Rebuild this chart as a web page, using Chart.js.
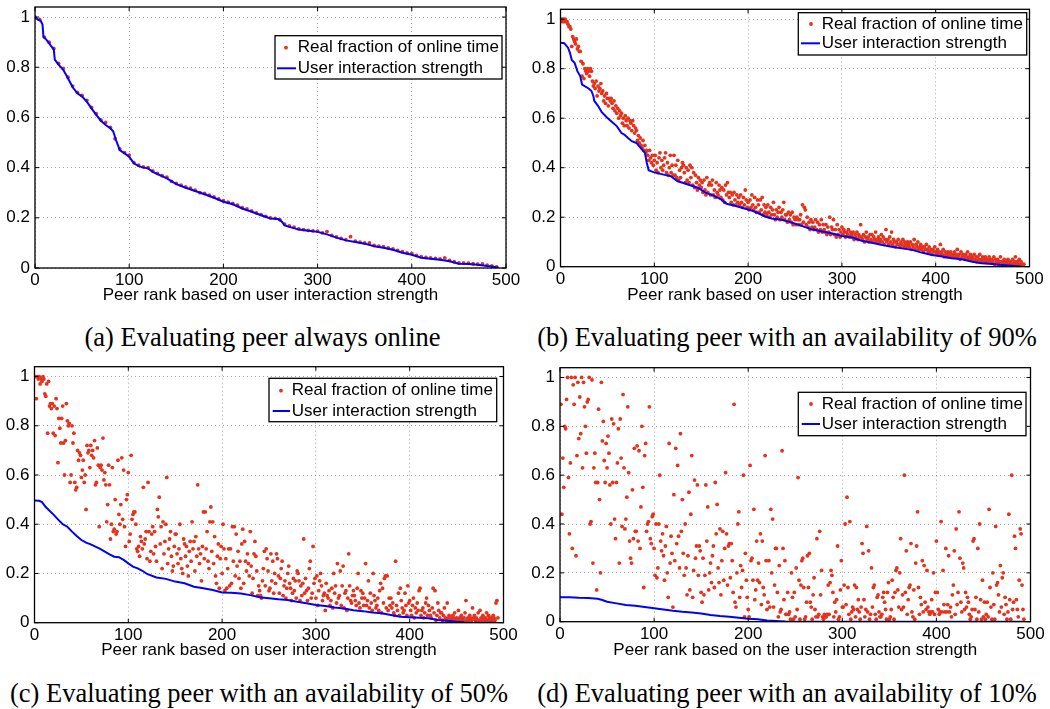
<!DOCTYPE html>
<html>
<head>
<meta charset="utf-8">
<title>Peer availability vs. user interaction strength</title>
<script src="https://cdn.jsdelivr.net/npm/chart.js@4.4.0/dist/chart.umd.min.js"></script>
<style>
  html, body { margin: 0; padding: 0; background: #fff; }
  #page { position: relative; width: 1050px; height: 709px; overflow: hidden; }
  .panel { position: absolute; width: 525px; height: 310px; }
  .caption { position: absolute; width: 600px; height: 30px; line-height: 30px; text-align: center;
             font-family: "Liberation Serif", "Times New Roman", serif; font-size: 26.5px; color: #000; white-space: nowrap; }
</style>
</head>
<body>
<div id="page">
  <div class="panel" style="left:0;top:0"><canvas id="chartA"></canvas></div>
  <div class="panel" style="left:525px;top:0"><canvas id="chartB"></canvas></div>
  <div class="panel" style="left:0;top:355px"><canvas id="chartC"></canvas></div>
  <div class="panel" style="left:525px;top:355px"><canvas id="chartD"></canvas></div>
  <div class="caption" id="capA" style="left:-37.5px;top:322px"></div>
  <div class="caption" id="capB" style="left:487px;top:322px"></div>
  <div class="caption" id="capC" style="left:-41px;top:678px"></div>
  <div class="caption" id="capD" style="left:487px;top:678px"></div>
</div>
<script>
const xTicks = [0, 100, 200, 300, 400, 500];
const xTickLabels = ["0", "100", "200", "300", "400", "500"];
const yTicks = [0, 0.2, 0.4, 0.6, 0.8, 1];
const yTickLabels = ["0", "0.2", "0.4", "0.6", "0.8", "1"];
const seriesNames = ["Real fraction of online time", "User interaction strength"];
const xTitles = [
  "Peer rank based on user interaction strength",
  "Peer rank based on user interaction strength",
  "Peer rank based on user interaction strength",
  "Peer rank based on the user interaction strength"
];
const captions = [
  "(a)  Evaluating peer always online",
  "(b)  Evaluating peer with an availability of 90%",
  "(c)  Evaluating peer with an availability of 50%",
  "(d)  Evaluating peer with an availability of 10%"
];

// (a) peer always online
const aDotRank = [
  0, 5, 10, 15, 20, 25, 30, 35, 40, 45, 50, 55, 60, 65, 70, 75, 80, 85, 90, 95,
  100, 105, 110, 115, 120, 125, 130, 135, 140, 145, 150, 155, 160, 165, 170, 175, 180, 185, 190, 195,
  200, 205, 210, 215, 220, 225, 230, 235, 240, 245, 250, 255, 260, 265, 270, 275, 280, 285, 290, 295,
  300, 305, 310, 315, 320, 325, 330, 335, 340, 345, 350, 355, 360, 365, 370, 375, 380, 385, 390, 395,
  400, 405, 410, 415, 420, 425, 430, 435, 440, 445, 450, 455, 460, 465, 470, 475, 480, 485, 490
];
const aDotValue = [
  1.00, 0.99, 0.92, 0.90, 0.875, 0.815, 0.795, 0.76, 0.725, 0.70,
  0.688, 0.668, 0.64, 0.615, 0.59, 0.58, 0.56, 0.515, 0.475, 0.46,
  0.45, 0.42, 0.41, 0.403, 0.40, 0.387, 0.377, 0.368, 0.362, 0.345,
  0.337, 0.33, 0.323, 0.318, 0.31, 0.30, 0.297, 0.29, 0.283, 0.275,
  0.268, 0.262, 0.257, 0.25, 0.24, 0.235, 0.228, 0.22, 0.213, 0.206,
  0.20, 0.198, 0.193, 0.175, 0.168, 0.163, 0.156, 0.153, 0.15, 0.148,
  0.147, 0.14, 0.145, 0.13, 0.124, 0.118, 0.113, 0.125, 0.107, 0.103,
  0.10, 0.10, 0.09, 0.087, 0.085, 0.08, 0.076, 0.07, 0.065, 0.06,
  0.058, 0.05, 0.045, 0.042, 0.04, 0.038, 0.036, 0.04, 0.03, 0.025,
  0.02, 0.02, 0.019, 0.017, 0.015, 0.016, 0.011, 0.008, 0.004
];
const aLineRank = [0, 3, 6, 8, 9, 12, 15, 18, 20, 21, 25, 30, 35, 40, 45, 50, 55, 60, 65, 70,
  75, 80, 83, 86, 90, 95, 100, 105, 110, 115, 120, 125, 130, 140, 150, 160, 170, 180, 190, 200,
  210, 220, 230, 240, 250, 258, 262, 265, 270, 280, 290, 300, 310, 320, 330, 340, 350, 360, 370, 380,
  390, 400, 410, 420, 430, 440, 450, 460, 470, 480, 485, 492];
const aLineValue = [1.0, 0.99, 0.985, 0.97, 0.92, 0.91, 0.895, 0.88, 0.87, 0.83, 0.81, 0.79, 0.756, 0.72, 0.696, 0.683, 0.663, 0.636, 0.61, 0.587,
  0.57, 0.557, 0.545, 0.51, 0.47, 0.457, 0.443, 0.417, 0.406, 0.40, 0.397, 0.383, 0.374, 0.357, 0.334, 0.32, 0.307, 0.294, 0.28, 0.264,
  0.254, 0.237, 0.224, 0.21, 0.197, 0.195, 0.185, 0.17, 0.164, 0.153, 0.148, 0.144, 0.134, 0.121, 0.11, 0.104, 0.097, 0.087, 0.081, 0.073,
  0.061, 0.053, 0.041, 0.037, 0.033, 0.027, 0.017, 0.016, 0.013, 0.008, 0.006, 0.001];

// (b) availability 90%  (dot i sits at peer rank i + 1)
const bDotValue = [
  1.00,0.99,1.00,0.99,1.00,0.99,0.99,0.98,0.97,0.97,
  0.96,0.89,0.93,0.92,0.91,0.90,0.92,0.88,0.89,0.87,
  0.87,0.83,0.77,0.82,0.76,0.80,0.79,0.78,0.80,0.79,
  0.77,0.80,0.79,0.75,0.73,0.74,0.72,0.75,0.69,0.73,
  0.71,0.72,0.74,0.70,0.71,0.67,0.69,0.66,0.70,0.68,
  0.65,0.68,0.67,0.68,0.66,0.64,0.67,0.63,0.65,0.62,
  0.64,0.60,0.63,0.61,0.62,0.58,0.60,0.57,0.61,0.59,
  0.57,0.60,0.56,0.59,0.58,0.55,0.59,0.57,0.54,0.56,
  0.55,0.51,0.53,0.50,0.52,0.49,0.48,0.51,0.47,0.49,
  0.46,0.47,0.45,0.43,0.47,0.44,0.42,0.45,0.41,0.43,
  0.45,0.39,0.42,0.38,0.44,0.46,0.40,0.43,0.39,0.41,
  0.44,0.46,0.38,0.42,0.37,0.40,0.45,0.38,0.41,0.37,
  0.45,0.37,0.41,0.36,0.43,0.35,0.39,0.36,0.40,0.42,
  0.41,0.38,0.34,0.40,0.35,0.39,0.34,0.41,0.36,0.40,
  0.33,0.38,0.32,0.37,0.34,0.31,0.36,0.33,0.35,0.32,
  0.34,0.30,0.35,0.31,0.29,0.36,0.30,0.33,0.34,0.29,
  0.33,0.35,0.29,0.31,0.28,0.34,0.30,0.29,0.33,0.31,
  0.28,0.32,0.27,0.31,0.26,0.33,0.29,0.34,0.30,0.28,
  0.30,0.26,0.29,0.25,0.30,0.27,0.25,0.29,0.26,0.28,
  0.25,0.29,0.26,0.24,0.28,0.25,0.31,0.27,0.24,0.26,
  0.23,0.27,0.24,0.29,0.25,0.23,0.28,0.24,0.22,0.27,
  0.25,0.22,0.27,0.23,0.28,0.21,0.25,0.22,0.24,0.21,
  0.25,0.22,0.20,0.24,0.21,0.23,0.26,0.21,0.19,0.23,
  0.20,0.22,0.24,0.19,0.22,0.20,0.23,0.26,0.19,0.21,
  0.21,0.18,0.22,0.19,0.21,0.18,0.22,0.17,0.20,0.19,
  0.17,0.20,0.19,0.17,0.19,0.21,0.17,0.25,0.18,0.24,
  0.23,0.17,0.20,0.16,0.18,0.15,0.19,0.16,0.18,0.15,
  0.16,0.19,0.15,0.18,0.14,0.17,0.15,0.19,0.14,0.17,
  0.15,0.14,0.17,0.13,0.16,0.14,0.20,0.13,0.16,0.15,
  0.19,0.13,0.15,0.12,0.17,0.13,0.15,0.12,0.14,0.16,
  0.13,0.15,0.14,0.12,0.14,0.13,0.15,0.12,0.14,0.13,
  0.12,0.14,0.11,0.13,0.12,0.14,0.11,0.13,0.12,0.17,
  0.12,0.11,0.13,0.10,0.12,0.14,0.11,0.12,0.10,0.13,
  0.11,0.13,0.10,0.12,0.11,0.14,0.10,0.11,0.12,0.10,
  0.11,0.13,0.10,0.12,0.09,0.11,0.15,0.10,0.11,0.09,
  0.12,0.10,0.14,0.09,0.11,0.10,0.08,0.10,0.09,0.11,
  0.09,0.08,0.10,0.09,0.11,0.08,0.10,0.09,0.08,0.10,
  0.09,0.08,0.10,0.07,0.09,0.08,0.11,0.07,0.09,0.08,
  0.10,0.07,0.08,0.09,0.07,0.08,0.06,0.08,0.07,0.09,
  0.07,0.06,0.08,0.06,0.07,0.05,0.07,0.06,0.08,0.06,
  0.05,0.07,0.06,0.05,0.09,0.06,0.05,0.07,0.04,0.06,
  0.05,0.04,0.06,0.05,0.04,0.06,0.05,0.04,0.05,0.06,
  0.04,0.05,0.07,0.04,0.05,0.03,0.06,0.04,0.05,0.04,
  0.03,0.05,0.04,0.06,0.03,0.04,0.05,0.03,0.04,0.03,
  0.05,0.03,0.04,0.02,0.04,0.03,0.05,0.02,0.03,0.04,
  0.02,0.03,0.04,0.02,0.03,0.02,0.04,0.03,0.02,0.03,
  0.02,0.04,0.01,0.03,0.02,0.03,0.01,0.02,0.04,0.02,
  0.01,0.02,0.03,0.01,0.02,0.01,0.03,0.02,0.01,0.02,
  0.01,0.03,0.01,0.02,0.04,0.01,0.02,0.01,0.03,0.01,
  0.02,0.01,0.00,0.01
];
const bLineRank = [0, 4, 8, 10, 12, 15, 18, 21, 23, 30, 33, 35, 36, 40, 44, 49, 54, 60, 65, 68,
  72, 76, 81, 84, 87, 90, 91, 92, 94, 97, 100, 110, 118, 125, 131, 140, 147, 154, 165, 172,
  177, 186, 197, 204, 211, 218, 225, 236, 247, 257, 268, 279, 289, 300, 311, 321, 332, 343, 353, 364,
  375, 385, 396, 407, 417, 428, 439, 449, 460, 471, 481, 492];
const bLineValue = [0.905, 0.903, 0.885, 0.865, 0.835, 0.824, 0.79, 0.77, 0.736, 0.72, 0.71, 0.69, 0.67, 0.65, 0.624, 0.605, 0.588, 0.568, 0.54, 0.534,
  0.52, 0.507, 0.5, 0.486, 0.473, 0.46, 0.44, 0.42, 0.39, 0.385, 0.381, 0.372, 0.365, 0.345, 0.338, 0.327, 0.318, 0.3, 0.284, 0.27,
  0.254, 0.246, 0.234, 0.227, 0.216, 0.203, 0.195, 0.19, 0.178, 0.165, 0.151, 0.142, 0.135, 0.124, 0.118, 0.105, 0.097, 0.088, 0.081, 0.074,
  0.068, 0.057, 0.047, 0.041, 0.034, 0.03, 0.02, 0.014, 0.011, 0.007, 0.004, 0.0];

// (c) availability 50%  (dot i sits at peer rank i + 1)
const cDotValue = [
  1.00,0.91,1.00,0.99,1.00,0.97,0.99,0.98,1.00,0.99,
  0.93,0.92,0.97,0.77,0.98,0.88,0.89,0.87,0.89,0.77,
  0.88,0.76,0.91,0.87,0.65,0.83,0.79,0.73,0.83,0.88,
  0.73,0.60,0.74,0.89,0.82,0.80,0.81,0.57,0.60,0.80,
  0.73,0.77,0.57,0.54,0.55,0.70,0.66,0.69,0.68,0.59,
  0.62,0.66,0.57,0.60,0.46,0.72,0.69,0.70,0.63,0.72,
  0.68,0.70,0.67,0.74,0.56,0.57,0.71,0.64,0.39,0.63,
  0.64,0.62,0.75,0.58,0.61,0.56,0.41,0.48,0.64,0.56,
  0.34,0.40,0.63,0.37,0.38,0.50,0.36,0.37,0.66,0.44,
  0.40,0.48,0.67,0.42,0.62,0.39,0.31,0.50,0.52,0.61,
  0.33,0.36,0.68,0.42,0.44,0.45,0.45,0.40,0.30,0.29,
  0.31,0.27,0.35,0.33,0.30,0.55,0.32,0.34,0.37,0.26,
  0.57,0.37,0.25,0.29,0.36,0.39,0.28,0.37,0.31,0.25,
  0.46,0.43,0.51,0.32,0.39,0.22,0.41,0.28,0.33,0.40,
  0.59,0.24,0.30,0.34,0.37,0.27,0.21,0.23,0.31,0.36,
  0.36,0.28,0.24,0.30,0.40,0.26,0.22,0.20,0.34,0.32,
  0.27,0.31,0.23,0.19,0.29,0.33,0.25,0.41,0.30,0.33,
  0.21,0.35,0.27,0.56,0.30,0.24,0.28,0.17,0.31,0.45,
  0.26,0.45,0.30,0.37,0.25,0.22,0.41,0.47,0.29,0.41,
  0.24,0.35,0.19,0.16,0.27,0.32,0.14,0.26,0.31,0.20,
  0.40,0.30,0.13,0.26,0.14,0.22,0.30,0.15,0.30,0.16,
  0.39,0.25,0.39,0.19,0.36,0.23,0.29,0.18,0.25,0.14,
  0.32,0.38,0.16,0.33,0.25,0.21,0.28,0.24,0.19,0.37,
  0.23,0.12,0.18,0.28,0.33,0.27,0.21,0.11,0.15,0.13,
  0.11,0.10,0.17,0.22,0.29,0.15,0.30,0.26,0.21,0.13,
  0.14,0.28,0.17,0.25,0.12,0.20,0.16,0.28,0.26,0.19,
  0.12,0.18,0.22,0.25,0.11,0.15,0.17,0.10,0.14,0.20,
  0.23,0.16,0.14,0.09,0.12,0.18,0.13,0.17,0.10,0.21,
  0.20,0.17,0.09,0.15,0.11,0.16,0.34,0.12,0.18,0.13,
  0.09,0.14,0.22,0.25,0.10,0.12,0.31,0.16,0.18,0.10,
  0.19,0.07,0.13,0.17,0.20,0.15,0.09,0.11,0.12,0.05,
  0.16,0.11,0.10,0.13,0.07,0.09,0.14,0.06,0.20,0.12,
  0.15,0.08,0.24,0.10,0.11,0.21,0.07,0.15,0.23,0.06,
  0.12,0.13,0.05,0.10,0.28,0.15,0.09,0.08,0.11,0.13,
  0.11,0.09,0.07,0.14,0.20,0.08,0.06,0.13,0.10,0.12,
  0.07,0.10,0.24,0.07,0.09,0.17,0.06,0.12,0.08,0.05,
  0.20,0.11,0.09,0.06,0.07,0.10,0.05,0.13,0.16,0.04,
  0.14,0.08,0.18,0.19,0.06,0.19,0.05,0.10,0.07,0.10,
  0.06,0.08,0.04,0.03,0.25,0.07,0.05,0.12,0.03,0.14,
  0.09,0.06,0.04,0.05,0.12,0.07,0.03,0.15,0.08,0.09,
  0.05,0.03,0.07,0.10,0.02,0.06,0.04,0.08,0.05,0.13,
  0.14,0.03,0.05,0.06,0.02,0.04,0.08,0.10,0.03,0.07,
  0.05,0.03,0.02,0.06,0.14,0.04,0.13,0.01,0.03,0.08,
  0.05,0.02,0.04,0.04,0.01,0.03,0.06,0.02,0.01,0.08,
  0.02,0.03,0.01,0.02,0.01,0.03,0.02,0.04,0.01,0.02,
  0.01,0.05,0.02,0.01,0.03,0.02,0.01,0.02,0.04,0.09,
  0.01,0.02,0.01,0.03,0.02,0.01,0.06,0.02,0.03,0.01,
  0.02,0.01,0.04,0.01,0.05,0.02,0.01,0.03,0.02,0.01,
  0.02,0.04,0.01,0.03,0.02,0.01,0.02,0.01,0.03,0.02,
  0.01,0.08,0.09,0.02
];
const cLineRank = [0, 5, 8, 12, 20, 25, 30, 35, 40, 45, 50, 55, 60, 65, 70, 75, 80, 85, 90, 95,
  100, 105, 110, 115, 120, 130, 140, 150, 160, 170, 180, 190, 200, 210, 220, 230, 240, 250, 260, 270,
  280, 290, 300, 310, 320, 330, 340, 350, 360, 370, 380, 390, 400, 420, 430, 440, 450, 460, 470, 492];
const cLineValue = [0.496, 0.495, 0.49, 0.47, 0.44, 0.42, 0.40, 0.39, 0.37, 0.352, 0.336, 0.325, 0.318, 0.309, 0.30, 0.289, 0.278, 0.268, 0.266, 0.255,
  0.241, 0.228, 0.221, 0.211, 0.198, 0.184, 0.178, 0.167, 0.16, 0.146, 0.14, 0.133, 0.123, 0.122, 0.119, 0.112, 0.103, 0.099, 0.095, 0.092,
  0.085, 0.079, 0.072, 0.068, 0.062, 0.058, 0.051, 0.047, 0.041, 0.038, 0.031, 0.024, 0.022, 0.018, 0.011, 0.008, 0.004, 0.001, 0, 0];

// (d) availability 10%  (dot i sits at peer rank i + 1)
const dDotValue = [
  0.89,0.44,0.67,0.55,0.80,0.79,0.91,1.00,0.59,0.36,
  0.65,1.00,0.30,0.97,0.89,1.00,0.27,0.68,0.98,0.75,
  0.92,0.77,1.00,0.63,0.98,0.88,0.80,0.69,0.90,0.91,
  1.00,0.40,0.41,0.99,0.24,0.63,0.69,0.57,0.13,0.57,
  0.87,0.50,0.20,0.98,0.74,0.82,0.66,0.57,0.73,0.63,
  0.76,0.69,0.56,0.40,0.83,0.57,0.81,0.42,0.34,0.57,
  0.65,0.79,0.24,0.83,0.67,0.39,0.93,0.63,0.38,0.42,
  0.51,0.88,0.61,0.33,0.26,0.24,0.54,0.34,0.71,0.37,
  0.37,0.72,0.33,0.70,0.30,0.47,0.80,0.55,0.14,0.68,
  0.73,0.37,0.40,0.41,0.88,0.34,0.32,0.43,0.44,0.30,
  0.19,0.40,0.18,0.22,0.40,0.60,0.33,0.29,0.36,0.27,
  0.17,0.31,0.39,0.20,0.10,0.73,0.24,0.35,0.28,0.06,
  0.52,0.25,0.71,0.32,0.64,0.35,0.22,0.77,0.37,0.50,
  0.28,0.19,0.40,0.22,0.11,0.27,0.53,0.13,0.44,0.68,
  0.10,0.21,0.58,0.26,0.31,0.56,0.19,0.31,0.29,0.12,
  0.08,0.26,0.11,0.19,0.56,0.33,0.47,0.13,0.20,0.24,
  0.16,0.27,0.31,0.14,0.57,0.36,0.48,0.22,0.16,0.38,
  0.11,0.25,0.37,0.17,0.30,0.61,0.36,0.15,0.31,0.32,
  0.18,0.32,0.25,0.12,0.89,0.08,0.06,0.20,0.40,0.45,
  0.10,0.23,0.14,0.21,0.60,0.02,0.28,0.17,0.10,0.05,
  0.02,0.64,0.25,0.26,0.17,0.46,0.09,0.13,0.33,0.17,
  0.24,0.16,0.36,0.07,0.33,0.14,0.11,0.68,0.25,0.05,
  0.08,0.25,0.06,0.46,0.20,0.42,0.06,0.15,0.30,0.30,
  0.12,0.02,0.23,0.04,0.05,0.70,0.30,0.09,0.25,0.03,
  0.03,0.12,0.03,0.04,0.01,0.20,0.10,0.01,0.12,0.02,
  0.22,0.05,0.59,0.17,0.01,0.15,0.25,0.26,0.14,0.01,
  0.02,0.08,0.27,0.14,0.28,0.08,0.06,0.01,0.11,0.18,
  0.05,0.02,0.34,0.02,0.03,0.37,0.11,0.21,0.02,0.01,
  0.03,0.02,0.02,0.03,0.15,0.03,0.16,0.21,0.19,0.12,
  0.02,0.08,0.04,0.09,0.31,0.01,0.02,0.13,0.25,0.06,
  0.06,0.15,0.40,0.07,0.51,0.14,0.03,0.41,0.01,0.04,
  0.06,0.05,0.15,0.02,0.14,0.05,0.09,0.04,0.01,0.06,
  0.32,0.28,0.09,0.02,0.05,0.39,0.04,0.29,0.01,0.03,
  0.22,0.06,0.14,0.15,0.03,0.01,0.10,0.11,0.04,0.02,
  0.02,0.03,0.10,0.12,0.08,0.05,0.01,0.12,0.16,0.01,
  0.02,0.05,0.17,0.10,0.01,0.12,0.21,0.22,0.13,0.06,
  0.20,0.34,0.05,0.11,0.06,0.60,0.12,0.29,0.03,0.09,
  0.14,0.15,0.32,0.04,0.02,0.13,0.01,0.24,0.31,0.45,
  0.14,0.03,0.10,0.07,0.25,0.04,0.23,0.08,0.05,0.21,
  0.06,0.04,0.03,0.04,0.09,0.04,0.20,0.03,0.12,0.33,
  0.12,0.05,0.03,0.04,0.41,0.04,0.21,0.07,0.04,0.30,
  0.04,0.07,0.27,0.04,0.06,0.02,0.11,0.15,0.29,0.03,
  0.38,0.07,0.12,0.45,0.26,0.08,0.04,0.24,0.22,0.05,
  0.12,0.06,0.10,0.08,0.03,0.01,0.02,0.05,0.33,0.34,
  0.05,0.10,0.01,0.30,0.04,0.40,0.09,0.01,0.17,0.02,
  0.08,0.01,0.03,0.08,0.02,0.46,0.14,0.06,0.01,0.20,
  0.07,0.01,0.39,0.15,0.16,0.11,0.04,0.23,0.06,0.18,
  0.20,0.03,0.10,0.07,0.01,0.04,0.44,0.09,0.01,0.60,
  0.05,0.08,0.35,0.30,0.09,0.05,0.02,0.17,0.38,0.36,
  0.15,0.05,0.01
];
const dLineRank = [0, 10, 20, 30, 40, 45, 50, 60, 70, 80, 90, 100, 110, 120, 130, 140, 150, 160, 170, 180,
  190, 200, 210, 220, 230, 240, 250, 492];
const dLineValue = [0.10, 0.10, 0.098, 0.097, 0.094, 0.089, 0.082, 0.075, 0.068, 0.065, 0.06, 0.055, 0.05, 0.045, 0.041, 0.038, 0.034, 0.027, 0.023, 0.02,
  0.016, 0.012, 0.01, 0.005, 0.003, 0.0005, 0, 0];

const dotColor = "#e6321c";
const lineColor = "#0000ff";
const textFont = { family: "'Liberation Sans', Arial, Helvetica, sans-serif", size: 17 };

Chart.defaults.font.family = textFont.family;
Chart.defaults.color = "#000";

const pairUp = (xs, ys) => ys.map((y, i) => ({ x: xs[i], y: y }));
const byRank = (ys) => ys.map((y, i) => ({ x: i + 1, y: y }));

// frame, inward ticks and the boxed legend, drawn the MATLAB way
const matlabBox = {
  id: "matlabBox",
  afterDraw(chart, args, opts) {
    const { ctx, chartArea: a } = chart;
    const x = chart.scales.x, y = chart.scales.y;
    ctx.save();
    ctx.setLineDash([]);
    ctx.strokeStyle = "#000";
    ctx.lineWidth = 1;
    ctx.beginPath();
    xTicks.forEach((v) => {
      const px = x.getPixelForValue(v);
      ctx.moveTo(px, a.bottom); ctx.lineTo(px, a.bottom - 4);
      ctx.moveTo(px, a.top); ctx.lineTo(px, a.top + 4);
    });
    yTicks.forEach((v) => {
      const py = y.getPixelForValue(v);
      ctx.moveTo(a.left, py); ctx.lineTo(a.left + 4, py);
      ctx.moveTo(a.right, py); ctx.lineTo(a.right - 4, py);
    });
    ctx.stroke();
    ctx.lineWidth = 1.3;
    ctx.strokeRect(a.left, a.top, a.right - a.left, a.bottom - a.top);

    const lg = opts.box;
    if (lg) {
      const [l, t, r, b] = lg;
      const rows = opts.rows;
      ctx.fillStyle = "#fff";
      ctx.fillRect(l, t, r - l, b - t);
      ctx.strokeRect(l, t, r - l, b - t);
      ctx.fillStyle = dotColor;
      ctx.beginPath();
      ctx.arc(opts.mark, rows[0], 1.9, 0, Math.PI * 2);
      ctx.fill();
      ctx.strokeStyle = lineColor;
      ctx.lineWidth = 2;
      ctx.beginPath();
      ctx.moveTo(opts.line[0], rows[1]);
      ctx.lineTo(opts.line[1], rows[1]);
      ctx.stroke();
      ctx.fillStyle = "#000";
      ctx.font = textFont.size + "px " + textFont.family;
      ctx.textAlign = "left";
      ctx.textBaseline = "middle";
      ctx.fillText(seriesNames[0], opts.text, rows[0]);
      ctx.fillText(seriesNames[1], opts.text, rows[1]);
    }
    ctx.restore();
  }
};

const W = 525, H = 310;

function makeChart(cfg) {
  const [left, top, right, bottom] = cfg.area;
  const zeroPad = (s) => { s.paddingLeft = 0; s.paddingRight = 0; s.paddingTop = 0; s.paddingBottom = 0; };
  return new Chart(document.getElementById(cfg.canvas), {
    type: "scatter",
    data: {
      datasets: [
        {
          type: "scatter",
          label: seriesNames[0],
          data: cfg.dots,
          order: 2,
          pointRadius: 1.9,
          pointHoverRadius: 1.9,
          pointBackgroundColor: dotColor,
          pointBorderWidth: 0
        },
        {
          type: "line",
          label: seriesNames[1],
          data: cfg.line,
          order: 1,
          borderColor: lineColor,
          borderWidth: 2,
          pointRadius: 0,
          tension: 0,
          fill: false
        }
      ]
    },
    options: {
      responsive: true,
      maintainAspectRatio: false,
      animation: false,
      events: [],
      layout: { padding: { left: 0, top: top, right: W - right, bottom: 0 } },
      plugins: {
        legend: { display: false },
        tooltip: { enabled: false },
        matlabBox: cfg.legend
      },
      scales: {
        x: {
          type: "linear",
          min: 0,
          max: 500,
          afterBuildTicks: (s) => { s.ticks = xTicks.map((v) => ({ value: v })); },
          afterFit: (s) => { s.height = H - bottom; zeroPad(s); },
          ticks: { autoSkip: false, maxRotation: 0, padding: 2, font: textFont, color: "#000",
                   callback: (v, i) => xTickLabels[i] },
          grid: { color: "rgba(0,0,0,0.35)", lineWidth: 1, drawTicks: false },
          border: { display: false, dash: [1, 3] },
          title: { display: true, text: cfg.xTitle, font: textFont, color: "#000", padding: { top: 0, bottom: 4 } }
        },
        y: {
          type: "linear",
          min: 0,
          max: 1.04,
          afterBuildTicks: (s) => { s.ticks = yTicks.map((v) => ({ value: v })); },
          afterFit: (s) => { s.width = left; zeroPad(s); },
          ticks: { autoSkip: false, padding: 5, font: textFont, color: "#000",
                   callback: (v, i) => yTickLabels[i] },
          grid: { color: "rgba(0,0,0,0.35)", lineWidth: 1, drawTicks: false },
          border: { display: false, dash: [1, 3] }
        }
      }
    },
    plugins: [matlabBox]
  });
}

makeChart({
  canvas: "chartA", area: [35, 7, 506, 268], xTitle: xTitles[0],
  dots: pairUp(aDotRank, aDotValue), line: pairUp(aLineRank, aLineValue),
  legend: { box: [275, 35.7, 502, 79], rows: [47.7, 68.3], mark: 286, line: [277, 296], text: 297.7 }
});
makeChart({
  canvas: "chartB", area: [35.5, 9.3, 504.5, 266.7], xTitle: xTitles[1],
  dots: byRank(bDotValue), line: pairUp(bLineRank, bLineValue),
  legend: { box: [273.3, 12.7, 501.7, 55], rows: [24, 43.3], mark: 286, line: [276, 295], text: 296.7 }
});
makeChart({
  canvas: "chartC", area: [34.5, 11.7, 503.5, 267.7], xTitle: xTitles[2],
  dots: byRank(cDotValue), line: pairUp(cLineRank, cLineValue),
  legend: { box: [269, 23.3, 496.7, 66.7], rows: [35.7, 56], mark: 281, line: [272.7, 290], text: 291.7 }
});
makeChart({
  canvas: "chartD", area: [35, 12.7, 505.5, 266.7], xTitle: xTitles[3],
  dots: byRank(dDotValue), line: pairUp(dLineRank, dLineValue),
  legend: { box: [273.3, 37.3, 501, 80.7], rows: [49, 69], mark: 286, line: [276.7, 295], text: 296.7 }
});

["capA", "capB", "capC", "capD"].forEach((id, i) => {
  document.getElementById(id).textContent = captions[i];
});
</script>
</body>
</html>
